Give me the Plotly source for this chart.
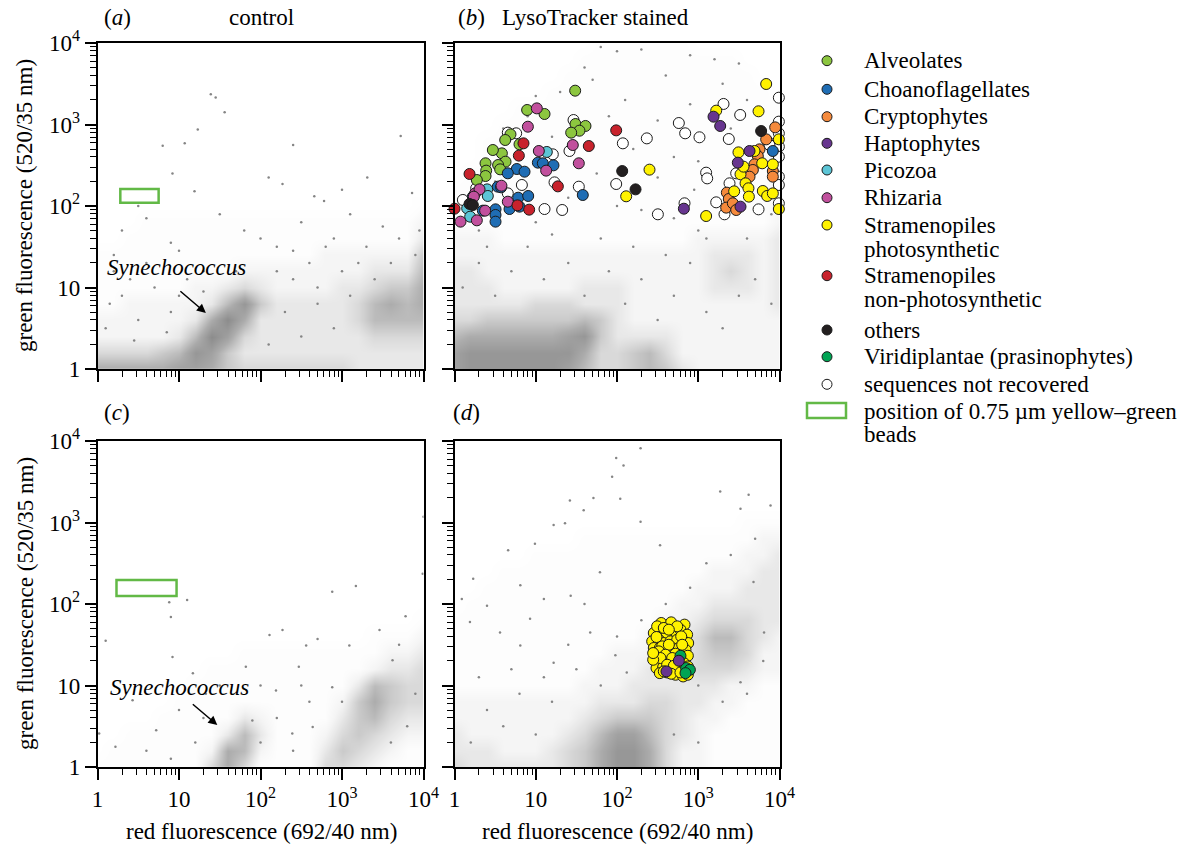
import numpy as np
import plotly.graph_objects as go

W, H = 1196, 845
FONT = "Liberation Serif"

# ---------------- data (all values in log10 of fluorescence units) ----------------
tick_vals = [0, 1, 2, 3, 4]
tick_text = ["1", "10", "10<sup>2</sup>", "10<sup>3</sup>", "10<sup>4</sup>"]

categories = ["Alveolates", "Choanoflagellates", "Cryptophytes", "Haptophytes", "Picozoa",
              "Rhizaria", "Stramenopiles|photosynthetic", "Stramenopiles|non-photosynthetic",
              "others", "Viridiplantae (prasinophytes)", "sequences not recovered"]
cat_colors = ["#8cc63f", "#1f6db4", "#f58a3c", "#67358f", "#5cc5d6",
              "#c1509d", "#fff200", "#c8222c", "#231f20", "#00a454", "#ffffff"]

# panel (b) sorted cells
alv_b_lr = [1.485, 0.894, 1.108, 1.489, 1.612, 1.538, 1.436, 0.689, 0.624, 0.800, 0.583, 0.472, 0.628, 0.382, 0.537, 0.562, 0.390, 0.382, 0.275]
alv_b_lg = [3.415, 3.178, 3.129, 3.006, 2.982, 2.924, 2.900, 2.879, 2.810, 2.757, 2.646, 2.687, 2.544, 2.524, 2.503, 2.450, 2.434, 2.368, 2.319]
cho_b_lr = [1.026, 1.087, 1.218, 0.767, 0.862, 0.656, 0.533, 0.574, 0.784, 0.907, 0.677, 0.800, 0.505, 0.505, 0.505, 0.349, 1.579, 3.918, 0.226]
cho_b_lg = [2.532, 2.524, 2.499, 2.454, 2.421, 2.401, 2.237, 2.229, 2.102, 2.123, 1.963, 1.992, 1.959, 1.890, 1.808, 1.943, 2.135, 2.675, 2.115]
cry_b_lr = [3.947, 3.836, 3.754, 3.733, 3.692, 3.672, 3.631, 3.352, 3.376, 3.344, 3.426, 3.467, 3.918, 3.918]
cry_b_lg = [2.965, 2.818, 2.695, 2.613, 2.511, 2.442, 2.360, 2.164, 2.086, 1.980, 2.033, 1.951, 2.429, 2.360]
hap_b_lr = [3.188, 3.270, 3.631, 3.487, 3.520, 2.823]
hap_b_lg = [3.096, 2.982, 2.675, 2.532, 1.992, 1.967]
pic_b_lr = [1.136, 0.402, 0.410, 0.156, 0.193]
pic_b_lg = [2.663, 2.204, 2.123, 1.971, 1.869]
rhi_b_lr = [1.013, 0.903, 1.038, 1.456, 1.530, 1.128, 0.254, 0.308, 0.238, 0.377, 0.275, 0.074, 0.656, 0.578]
rhi_b_lg = [3.198, 2.973, 2.675, 2.748, 2.524, 2.434, 2.155, 2.204, 2.115, 1.943, 1.824, 1.808, 2.053, 2.249]
sph_b_lr = [3.836, 3.221, 3.742, 3.992, 3.495, 3.692, 3.787, 3.918, 3.520, 3.557, 3.582, 3.618, 3.442, 3.623, 3.795, 3.848, 3.918, 3.992, 2.400, 2.113, 3.097]
sph_b_lg = [3.497, 3.170, 3.162, 2.818, 2.658, 2.675, 2.524, 2.511, 2.389, 2.483, 2.278, 2.217, 2.180, 2.115, 2.184, 2.123, 2.155, 1.963, 2.446, 2.119, 1.877]
snp_b_lr = [1.990, 1.653, 0.849, 0.792, 0.185, 1.272, 0.775, 0.919, 0.000]
snp_b_lg = [2.928, 2.736, 2.769, 2.618, 2.393, 2.241, 2.008, 1.955, 1.967]
oth_b_lr = [3.774, 2.064, 2.228, 0.185, 0.226]
oth_b_lg = [2.920, 2.429, 2.204, 2.025, 2.012]
nr_b_lr = [1.465, 3.311, 3.516, 2.761, 2.839, 3.015, 3.376, 2.367, 2.072, 1.415,
           1.210, 0.829, 1.231, 1.530, 1.990, 3.097, 3.110, 3.221, 3.323, 3.742,
           2.831, 2.503, 1.108, 1.325, 0.759, 0.656, 3.992, 3.992, 3.992, 3.992,
           3.992, 3.992, 3.992, 3.992, 3.856, 3.877, 3.467, 3.385, 0.656, 0.103, 0.267]
nr_b_lg = [3.055, 3.252, 3.117, 3.018, 2.892, 2.843, 2.822, 2.830, 2.769, 2.675,
           2.634, 2.258, 2.290, 2.237, 2.270, 2.409, 2.339, 2.045, 1.898, 1.959,
           2.033, 1.898, 1.963, 1.951, 2.892, 2.900, 3.329, 3.035, 2.892, 2.728,
           2.605, 2.360, 2.258, 2.033, 2.789, 2.748, 2.401, 2.278, 2.155, 2.074, 2.217]

# panel (d) sorted cells
sph_d_lr = [2.544, 2.667, 2.831, 2.453, 2.535, 2.609, 2.708, 2.781, 2.863, 2.433,
            2.515, 2.576, 2.658, 2.741, 2.823, 2.876, 2.453, 2.527, 2.597, 2.679,
            2.761, 2.843, 2.474, 2.556, 2.638, 2.720, 2.802, 2.872, 2.494, 2.576,
            2.658, 2.741, 2.823, 2.486, 2.568, 2.658, 2.761, 2.823, 2.872, 2.527,
            2.617, 2.720, 2.814, 2.872, 2.494, 2.576, 2.741, 2.638, 2.486, 2.790,
            2.556, 2.638, 2.802, 2.515, 2.597, 2.679, 2.535, 2.617, 2.700, 2.576,
            2.667, 2.781, 2.445, 2.445]
sph_d_lg = [1.767, 1.775, 1.747, 1.644, 1.652, 1.624, 1.665, 1.685, 1.624, 1.542,
            1.562, 1.521, 1.542, 1.562, 1.542, 1.521, 1.460, 1.460, 1.439, 1.460,
            1.460, 1.439, 1.378, 1.378, 1.357, 1.390, 1.357, 1.365, 1.296, 1.296,
            1.296, 1.275, 1.275, 1.214, 1.226, 1.201, 1.193, 1.214, 1.234, 1.152,
            1.160, 1.132, 1.111, 1.132, 1.726, 1.706, 1.726, 1.685, 1.595, 1.603,
            1.480, 1.500, 1.500, 1.419, 1.378, 1.337, 1.337, 1.255, 1.242, 1.173,
            1.144, 1.160, 1.316, 1.398]
vir_d_lr = [2.781, 2.851, 2.897, 2.843]
vir_d_lg = [1.365, 1.214, 1.193, 1.152]
hap_d_lr = [2.761, 2.609]
hap_d_lg = [1.304, 1.173]

# bead gate rectangles [x0, x1, y0, y1]
beads_a = [0.28, 0.75, 2.04, 2.21]
beads_c = [0.233, 0.97, 2.098, 2.294]

# background event density (0 = none, 10 = saturated), grid nodes every 0.2 decade
grid_steps = [0.0, 0.2, 0.4, 0.6, 0.8, 1.0, 1.2, 1.4, 1.6, 1.8, 2.0,
              2.2, 2.4, 2.6, 2.8, 3.0, 3.2, 3.4, 3.6, 3.8, 4.0]
dens_a = [
    [7, 7, 7, 7, 7, 8, 8, 7, 5, 4, 4, 4, 4, 4, 4, 4, 3, 3, 3, 3, 3],
    [4, 4, 4, 4, 5, 6, 9, 8, 5, 3, 3, 3, 3, 3, 3, 3, 3, 3, 3, 3, 3],
    [2, 2, 2, 2, 2, 3, 6, 10, 8, 4, 3, 3, 3, 3, 3, 3, 3, 4, 4, 4, 4],
    [2, 2, 2, 2, 2, 2, 3, 7, 10, 7, 3, 3, 3, 3, 3, 3, 4, 6, 6, 6, 6],
    [1, 1, 2, 2, 2, 2, 2, 3, 6, 9, 5, 3, 3, 3, 3, 3, 4, 6, 7, 6, 7],
    [1, 1, 1, 1, 1, 1, 2, 2, 3, 4, 3, 2, 2, 2, 2, 3, 3, 4, 5, 5, 7],
    [1, 1, 1, 1, 1, 1, 1, 1, 1, 2, 2, 2, 2, 2, 2, 2, 2, 3, 3, 3, 6],
    [1, 1, 1, 1, 1, 1, 1, 1, 1, 1, 1, 1, 1, 1, 2, 2, 2, 2, 2, 2, 5],
    [0, 0, 1, 1, 1, 1, 1, 1, 1, 1, 1, 1, 1, 1, 1, 1, 1, 1, 1, 1, 3],
    [0, 0, 0, 1, 1, 1, 1, 1, 1, 1, 1, 1, 1, 1, 1, 1, 1, 1, 1, 1, 2],
    [0, 0, 0, 0, 0, 0, 0, 0, 0, 0, 0, 0, 0, 0, 0, 0, 0, 0, 0, 0, 1],
]
dens_b = [
    [8, 9, 9, 9, 9, 9, 9, 8, 6, 4, 4, 5, 6, 5, 3, 2, 2, 2, 2, 2, 2],
    [8, 9, 9, 9, 9, 9, 9, 9, 7, 4, 4, 5, 6, 4, 2, 2, 2, 2, 2, 2, 2],
    [6, 7, 7, 7, 7, 7, 7, 8, 9, 5, 3, 3, 3, 3, 2, 2, 2, 2, 2, 2, 2],
    [4, 4, 5, 5, 5, 5, 5, 5, 6, 5, 3, 2, 2, 2, 2, 2, 2, 2, 2, 2, 2],
    [3, 3, 3, 3, 3, 4, 4, 4, 3, 3, 3, 2, 2, 2, 2, 2, 2, 2, 2, 2, 3],
    [3, 3, 3, 2, 2, 2, 2, 2, 3, 3, 3, 2, 2, 2, 2, 2, 3, 3, 3, 2, 3],
    [3, 3, 2, 2, 2, 2, 2, 2, 2, 2, 2, 2, 2, 2, 2, 2, 3, 4, 3, 2, 3],
    [2, 2, 2, 2, 2, 2, 2, 2, 2, 2, 2, 2, 2, 2, 2, 2, 3, 3, 3, 2, 3],
    [2, 2, 2, 1, 1, 1, 1, 1, 1, 1, 1, 1, 1, 1, 1, 2, 2, 2, 2, 2, 3],
    [1, 1, 1, 1, 1, 1, 1, 1, 1, 1, 1, 1, 1, 1, 1, 1, 1, 1, 1, 1, 2],
    [1, 1, 1, 1, 1, 1, 1, 1, 1, 1, 1, 1, 1, 1, 1, 1, 1, 1, 1, 1, 2],
    [1, 1, 1, 1, 1, 1, 1, 1, 1, 1, 1, 1, 1, 1, 1, 1, 1, 1, 1, 1, 2],
    [0, 1, 1, 1, 1, 1, 1, 1, 1, 1, 1, 1, 1, 1, 1, 1, 1, 1, 1, 1, 2],
    [0, 0, 1, 1, 1, 1, 1, 1, 1, 1, 1, 1, 1, 1, 1, 1, 1, 1, 1, 1, 2],
    [0, 0, 1, 1, 1, 1, 1, 1, 1, 1, 1, 1, 1, 1, 1, 1, 1, 1, 1, 1, 1],
    [0, 0, 0, 1, 1, 1, 1, 1, 1, 1, 1, 1, 1, 1, 1, 1, 1, 1, 1, 1, 1],
    [0, 0, 0, 0, 1, 1, 1, 1, 1, 1, 1, 1, 1, 1, 1, 1, 1, 1, 1, 1, 1],
    [0, 0, 0, 0, 0, 0, 1, 1, 1, 1, 1, 1, 1, 1, 1, 1, 1, 1, 1, 1, 0],
    [0, 0, 0, 0, 0, 0, 0, 1, 1, 1, 1, 1, 1, 1, 1, 1, 1, 1, 1, 0, 0],
    [0, 0, 0, 0, 0, 0, 0, 0, 1, 1, 1, 1, 1, 1, 1, 1, 1, 1, 0, 0, 0],
    [0, 0, 0, 0, 0, 0, 0, 0, 0, 1, 1, 1, 1, 1, 1, 0, 0, 0, 0, 0, 0],
]
dens_c = [
    [1, 1, 1, 1, 1, 1, 1, 4, 7, 4, 1, 1, 1, 1, 4, 4, 3, 2, 1, 1, 1],
    [0, 1, 1, 1, 1, 1, 1, 2, 7, 6, 2, 1, 1, 1, 3, 5, 4, 3, 2, 1, 1],
    [0, 0, 1, 1, 1, 1, 1, 1, 3, 6, 3, 1, 1, 1, 2, 4, 5, 4, 3, 2, 2],
    [0, 0, 0, 0, 1, 1, 1, 1, 1, 3, 2, 1, 1, 1, 1, 3, 5, 6, 4, 3, 3],
    [0, 0, 0, 0, 0, 1, 1, 1, 1, 1, 1, 1, 1, 1, 1, 2, 5, 7, 5, 4, 4],
    [0, 0, 0, 0, 0, 0, 1, 1, 1, 1, 1, 1, 1, 1, 1, 1, 3, 6, 5, 4, 4],
    [0, 0, 0, 0, 0, 0, 0, 1, 1, 1, 1, 1, 1, 1, 1, 1, 1, 2, 3, 3, 4],
    [0, 0, 0, 0, 0, 0, 0, 0, 0, 1, 1, 1, 1, 1, 1, 1, 1, 1, 2, 2, 3],
    [0, 0, 0, 0, 0, 0, 0, 0, 0, 0, 0, 0, 0, 0, 0, 0, 0, 1, 1, 1, 2],
    [0, 0, 0, 0, 0, 0, 0, 0, 0, 0, 0, 0, 0, 0, 0, 0, 0, 0, 0, 0, 1],
    [0, 0, 0, 0, 0, 0, 0, 0, 0, 0, 0, 0, 0, 0, 0, 0, 0, 0, 0, 0, 0],
]
dens_d = [
    [4, 3, 3, 3, 3, 3, 3, 4, 5, 7, 9, 9, 7, 4, 2, 2, 1, 1, 1, 1, 1],
    [3, 3, 3, 2, 2, 2, 3, 4, 5, 7, 9, 9, 7, 4, 2, 2, 1, 1, 1, 1, 1],
    [3, 2, 2, 2, 2, 2, 2, 3, 4, 6, 8, 8, 6, 4, 3, 2, 1, 1, 1, 1, 1],
    [2, 2, 2, 2, 2, 2, 2, 2, 3, 4, 5, 5, 5, 4, 3, 2, 2, 1, 1, 1, 1],
    [2, 2, 2, 2, 2, 2, 2, 2, 2, 3, 3, 3, 4, 4, 3, 3, 2, 2, 1, 1, 1],
    [1, 1, 1, 1, 1, 1, 1, 1, 2, 2, 2, 3, 3, 3, 3, 3, 3, 2, 2, 1, 1],
    [1, 1, 1, 1, 1, 1, 1, 1, 1, 2, 2, 2, 3, 3, 3, 4, 4, 4, 3, 2, 2],
    [1, 1, 1, 1, 1, 1, 1, 1, 1, 1, 2, 2, 2, 3, 3, 4, 5, 5, 4, 2, 2],
    [1, 1, 1, 1, 1, 1, 1, 1, 1, 1, 1, 1, 2, 2, 3, 4, 6, 6, 4, 3, 2],
    [1, 1, 1, 1, 1, 1, 1, 1, 1, 1, 1, 1, 1, 2, 2, 3, 4, 4, 4, 3, 3],
    [0, 1, 1, 1, 1, 1, 1, 1, 1, 1, 1, 1, 1, 1, 2, 2, 3, 3, 3, 3, 3],
    [0, 0, 1, 1, 1, 1, 1, 1, 1, 1, 1, 1, 1, 1, 1, 2, 2, 2, 3, 3, 3],
    [0, 0, 0, 1, 1, 1, 1, 1, 1, 1, 1, 1, 1, 1, 1, 1, 2, 2, 2, 3, 3],
    [0, 0, 0, 0, 0, 1, 1, 1, 1, 1, 1, 1, 1, 1, 1, 1, 1, 1, 2, 2, 3],
    [0, 0, 0, 0, 0, 0, 0, 0, 1, 1, 1, 1, 1, 1, 1, 1, 1, 1, 1, 2, 2],
    [0, 0, 0, 0, 0, 0, 0, 0, 0, 0, 0, 0, 0, 0, 0, 0, 0, 0, 1, 1, 1],
    [0, 0, 0, 0, 0, 0, 0, 0, 0, 0, 0, 0, 0, 0, 0, 0, 0, 0, 0, 0, 0],
]

# isolated background events
sp_a_lr = [1.39, 1.45, 1.56, 1.23, 1.07, 0.80, 3.72, 2.40, 0.92, 1.19, 0.50, 2.10, 2.27, 3.31, 3.00, 3.86, 2.66, 2.78,
           0.30, 0.60, 1.50, 1.80, 2.50, 3.10, 3.50, 0.20, 0.90, 1.30, 2.20, 2.90, 3.30, 3.70, 0.40, 1.00, 2.40, 2.70, 3.00,
           0.10, 0.30, 0.50, 0.70, 0.90, 1.10, 0.20, 0.60, 1.00, 1.30, 2.10, 2.30, 2.50, 2.70, 2.90, 3.10, 2.20, 2.60,
           3.20, 3.40, 2.00, 2.40, 0.15, 0.45, 0.85, 3.90, 3.95, 3.60, 2.80, 1.70]
sp_a_lg = [3.37, 3.33, 3.15, 2.94, 2.77, 2.74, 2.86, 2.75, 2.40, 2.18, 2.00, 2.35, 2.27, 2.35, 2.20, 2.16, 2.12, 2.06,
           1.70, 1.85, 1.90, 1.70, 1.80, 1.90, 1.75, 1.40, 1.55, 1.20, 1.50, 1.60, 1.50, 1.60, 1.10, 0.90, 1.10, 0.80, 1.20,
           0.50, 0.90, 0.60, 1.00, 0.70, 1.10, 1.20, 1.30, 1.45, 0.95, 0.30, 0.70, 0.40, 1.00, 0.50, 0.90, 1.20, 1.30,
           1.30, 1.10, 1.60, 1.45, 0.80, 0.35, 0.45, 1.40, 1.70, 1.30, 1.50, 1.20]
sp_b_lr = [1.80, 2.00, 2.30, 2.90, 3.20, 3.50, 1.60, 1.70, 2.60, 3.30, 1.30, 1.00, 2.10, 2.90, 3.60, 0.90, 1.90,
           2.50, 3.40, 0.60, 1.20, 2.20, 2.70, 3.00, 0.50, 1.75, 2.50, 2.95, 1.40, 2.30, 2.70, 0.30, 1.20, 3.10,
           0.10, 0.30, 0.50, 0.70, 0.90, 1.10, 1.40, 1.60, 1.90, 2.10, 2.30, 2.50, 2.70, 2.90, 3.10, 3.30, 3.50,
           3.70, 3.90, 2.20, 2.60, 3.00, 3.60, 1.80, 0.40, 1.00, 2.00, 3.30, 3.90, 0.80]
sp_b_lg = [3.95, 3.90, 3.92, 3.85, 3.80, 3.75, 3.70, 3.55, 3.60, 3.50, 3.40, 3.35, 3.30, 3.25, 3.30, 3.10, 3.10,
           3.05, 2.95, 2.95, 2.85, 2.70, 2.60, 2.55, 2.30, 2.40, 2.35, 2.20, 2.10, 1.95, 1.85, 1.70, 1.65, 1.60,
           1.00, 1.30, 0.90, 1.20, 1.50, 1.10, 1.30, 0.90, 1.20, 0.80, 1.10, 0.60, 0.90, 1.30, 0.70, 0.50, 0.90,
           1.10, 0.80, 1.50, 1.40, 1.70, 1.60, 1.60, 1.50, 1.80, 2.00, 2.00, 1.90, 2.00]
sp_c_lr = [0.88, 0.90, 1.10, 0.92, 3.17, 2.88, 4.00, 3.99, 2.11, 2.27, 2.70, 2.56, 3.46, 3.78, 1.17, 1.82,
           2.47, 3.09, 0.43, 0.22, 0.72, 1.00, 2.19, 1.33, 2.88, 1.90, 2.39, 2.64, 3.62, 0.02, 0.10,
           1.20, 1.30, 2.00, 2.20, 2.40, 2.60, 2.50, 3.00, 3.60, 3.80, 3.90, 3.70, 2.00, 1.50, 0.60, 0.90]
sp_c_lg = [2.02, 1.84, 2.05, 1.35, 2.22, 2.15, 3.07, 2.37, 1.62, 1.68, 1.57, 1.49, 1.68, 1.85, 1.15, 1.23,
           1.23, 1.49, 0.82, 0.25, 0.45, 0.70, 0.94, 0.90, 0.98, 0.57, 0.41, 0.49, 1.31, 0.41, 1.55,
           0.30, 0.60, 0.30, 0.60, 0.20, 0.80, 1.00, 0.80, 0.30, 0.50, 0.90, 1.50, 1.00, 1.00, 0.20, 0.10]
sp_d_lr = [1.99, 2.08, 1.94, 2.29, 2.04, 1.71, 1.42, 1.59, 1.22, 1.36, 0.99, 0.66, 0.23, 0.09, 0.40, 0.81, 0.93, 1.10,
           1.43, 1.79, 2.29, 2.53, 3.27, 3.62, 3.89, 3.52, 0.19, 0.56, 0.81, 1.22, 1.67, 1.98, 2.12, 3.68, 3.81, 3.52,
           0.20, 0.40, 0.60, 0.80, 1.00, 1.20, 0.30, 0.70, 1.10, 1.50, 1.80, 2.00, 2.30, 2.60, 2.90, 3.10, 3.40,
           3.70, 3.00, 3.30, 3.60, 3.80, 2.70, 3.00, 1.40, 1.60]
sp_d_lg = [3.79, 3.70, 3.56, 3.91, 3.29, 3.30, 3.27, 3.15, 2.97, 2.99, 2.74, 2.66, 2.31, 2.06, 1.98, 2.23, 1.82, 2.06,
           2.10, 2.39, 3.01, 2.72, 3.38, 3.34, 3.21, 3.17, 1.78, 1.65, 1.49, 1.28, 1.65, 1.37, 1.16, 2.27, 1.65, 1.04,
           0.30, 0.70, 0.50, 0.90, 0.40, 0.80, 1.10, 1.20, 1.10, 1.20, 1.00, 1.60, 1.80, 2.00, 2.20, 2.50, 2.60,
           2.80, 1.00, 0.80, 0.90, 1.30, 0.40, 0.30, 1.50, 2.00]

# ---------------- figure ----------------
fig = go.Figure()
GRAY_SCALE = [[0, "#ffffff"], [0.1, "#fdfdfd"], [0.2, "#f5f5f5"], [0.3, "#e8e8e8"],
              [0.5, "#cacaca"], [0.7, "#acacac"], [1, "#8c8c8c"]]


def add_background(dens, sp_lr, sp_lg, xa, ya):
    fig.add_trace(go.Heatmap(x=grid_steps, y=grid_steps[:len(dens)], z=dens, xaxis=xa, yaxis=ya,
                             colorscale=GRAY_SCALE, zmin=0, zmax=10, zsmooth="best",
                             showscale=False, hoverinfo="skip"))
    fig.add_trace(go.Scatter(x=sp_lr, y=sp_lg, xaxis=xa, yaxis=ya, mode="markers",
                             marker=dict(size=2.5, color="#858585"), showlegend=False, hoverinfo="skip"))


add_background(dens_a, sp_a_lr, sp_a_lg, "x", "y")
add_background(dens_b, sp_b_lr, sp_b_lg, "x2", "y2")
add_background(dens_c, sp_c_lr, sp_c_lg, "x3", "y3")
add_background(dens_d, sp_d_lr, sp_d_lg, "x4", "y4")


def add_cells(lr, lg, color, xa, ya):
    fig.add_trace(go.Scatter(x=lr, y=lg, xaxis=xa, yaxis=ya, mode="markers", cliponaxis=False,
                             marker=dict(size=11, color=color, line=dict(color="#1a1a1a", width=1)),
                             showlegend=False, hoverinfo="skip"))


add_cells(nr_b_lr, nr_b_lg, cat_colors[10], "x2", "y2")
add_cells(alv_b_lr, alv_b_lg, cat_colors[0], "x2", "y2")
add_cells(cho_b_lr, cho_b_lg, cat_colors[1], "x2", "y2")
add_cells(cry_b_lr, cry_b_lg, cat_colors[2], "x2", "y2")
add_cells(sph_b_lr, sph_b_lg, cat_colors[6], "x2", "y2")
add_cells(hap_b_lr, hap_b_lg, cat_colors[3], "x2", "y2")
add_cells(pic_b_lr, pic_b_lg, cat_colors[4], "x2", "y2")
add_cells(rhi_b_lr, rhi_b_lg, cat_colors[5], "x2", "y2")
add_cells(snp_b_lr, snp_b_lg, cat_colors[7], "x2", "y2")
add_cells(oth_b_lr, oth_b_lg, cat_colors[8], "x2", "y2")

add_cells(sph_d_lr, sph_d_lg, cat_colors[6], "x4", "y4")
add_cells(vir_d_lr, vir_d_lg, cat_colors[9], "x4", "y4")
add_cells(hap_d_lr, hap_d_lg, cat_colors[3], "x4", "y4")

# ---------------- axes ----------------
minor_vals = [float(d + np.log10(k)) for d in range(4) for k in range(2, 10)]


def axis(domain, anchor, labels):
    return dict(domain=domain, anchor=anchor, range=[0, 4], showline=True, linecolor="black",
                linewidth=1.5, mirror=True, ticks="outside", ticklen=11, tickwidth=1.5,
                tickcolor="black", tickvals=tick_vals, ticktext=tick_text, showticklabels=labels,
                tickfont=dict(family=FONT, size=23, color="black"), showgrid=False, zeroline=False,
                minor=dict(tickvals=minor_vals, ticks="outside", ticklen=6, tickwidth=1,
                           tickcolor="black", showgrid=False),
                fixedrange=True, automargin=False)


xl = [97.5 / W, 423.5 / W]
xr = [454.5 / W, 779.5 / W]
yt = [1 - 369 / H, 1 - 43 / H]
yb = [1 - 767 / H, 1 - 441 / H]

fig.update_layout(
    xaxis=axis(xl, "y", False), yaxis=axis(yt, "x", True),
    xaxis2=axis(xr, "y2", False), yaxis2=axis(yt, "x2", False),
    xaxis3=axis(xl, "y3", True), yaxis3=axis(yb, "x3", True),
    xaxis4=axis(xr, "y4", True), yaxis4=axis(yb, "x4", False),
)

# bead rectangles
GREEN = "#62b946"
for b, xa, ya in [(beads_a, "x", "y"), (beads_c, "x3", "y3")]:
    fig.add_shape(type="rect", xref=xa, yref=ya, x0=b[0], x1=b[1], y0=b[2], y1=b[3],
                  line=dict(color=GREEN, width=2.5), fillcolor="rgba(0,0,0,0)")

ann = []
tf = dict(family=FONT, size=23, color="black")


def pa(text, px, py, xanchor="center", yanchor="middle", angle=0):
    ann.append(dict(text=text, x=px / W, y=1 - py / H, xref="paper", yref="paper",
                    xanchor=xanchor, yanchor=yanchor, showarrow=False, font=tf, textangle=angle))


pa("(<i>a</i>)", 117, 18)
pa("control", 261, 18)
pa("(<i>b</i>)", 471, 18)
pa("LysoTracker stained", 595, 18)
pa("(<i>c</i>)", 117, 413)
pa("(<i>d</i>)", 466, 413)
pa("green fluorescence (520/35 nm)", 25, 206, angle=-90)
pa("green fluorescence (520/35 nm)", 25, 604, angle=-90)
pa("red fluorescence (692/40 nm)", 261, 831)
pa("red fluorescence (692/40 nm)", 617, 831)

# Synechococcus labels
for xa, ya, hx, hy, tx, ty, axp, ayp in [("x", "y", 1.33, 0.687, 0.97, 1.24, -27, -23),
                                          ("x3", "y3", 1.47, 0.515, 1.0, 0.97, -26, -22)]:
    ann.append(dict(text="<i>Synechococcus</i>", x=tx, y=ty, xref=xa, yref=ya, showarrow=False, font=tf))
    ann.append(dict(text="", x=hx, y=hy, xref=xa, yref=ya, ax=axp, ay=ayp, showarrow=True,
                    arrowhead=2, arrowsize=1.2, arrowwidth=1.5, arrowcolor="black"))

# legend (drawn manually)
legend_rows = [60.7, 89.3, 116.7, 143.3, 170, 197.7, 225, 275.7, 330, 356.7, 384.3]
for name, col, ry in zip(categories, cat_colors, legend_rows):
    fig.add_shape(type="circle", xref="paper", yref="paper", xsizemode="pixel", ysizemode="pixel",
                  xanchor=827 / W, yanchor=1 - ry / H, x0=-5, x1=5, y0=-5, y1=5,
                  fillcolor=col, line=dict(color="#1a1a1a", width=1))
    parts = name.split("|")
    for i, p in enumerate(parts):
        pa(p, 862, ry + 24 * i, xanchor="left")
fig.add_shape(type="rect", xref="paper", yref="paper", x0=807 / W, x1=846 / W,
              y0=1 - 418 / H, y1=1 - 403 / H, line=dict(color=GREEN, width=2.5))
pa("position of 0.75 µm yellow–green", 862, 411, xanchor="left")
pa("beads", 862, 435, xanchor="left")

fig.update_layout(annotations=ann, width=W, height=H, margin=dict(l=0, r=0, t=0, b=0),
                  plot_bgcolor="white", paper_bgcolor="white", showlegend=False,
                  font=dict(family=FONT, size=23, color="black"))

fig.write_html("out.html", config={"displayModeBar": False},
               post_script="document.body.style.margin='0px';")
